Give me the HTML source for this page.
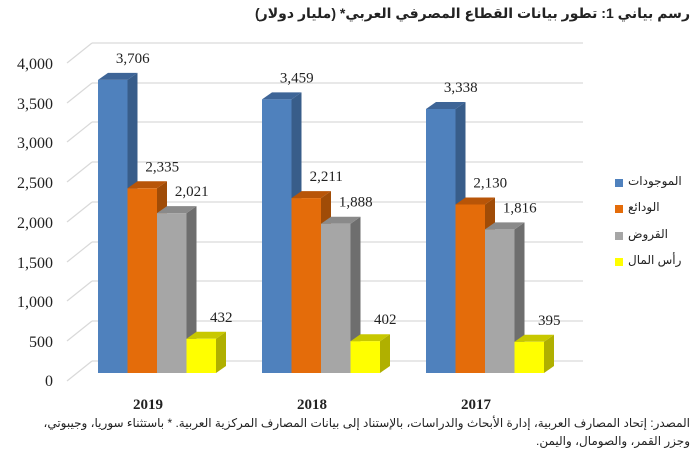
<!DOCTYPE html>
<html><head><meta charset="utf-8"><style>
body{margin:0;background:#fff;width:700px;height:454px;position:relative;overflow:hidden;}
svg{display:block;font-family:"Liberation Serif","DejaVu Serif",serif;position:absolute;left:0;top:0;}
.ar{position:absolute;font-family:"Liberation Sans","DejaVu Sans",sans-serif;direction:rtl;text-align:right;color:#222;white-space:nowrap;}
</style></head><body>
<svg width="700" height="454" viewBox="0 0 700 454" xmlns="http://www.w3.org/2000/svg">
<g stroke="#d9d9d9" stroke-width="1.2" fill="none">
<line x1="92" y1="43" x2="583" y2="43"/><line x1="67" y1="63" x2="92" y2="43"/>
<line x1="92" y1="83" x2="583" y2="83"/><line x1="67" y1="103" x2="92" y2="83"/>
<line x1="92" y1="122" x2="583" y2="122"/><line x1="67" y1="142" x2="92" y2="122"/>
<line x1="92" y1="162" x2="583" y2="162"/><line x1="67" y1="182" x2="92" y2="162"/>
<line x1="92" y1="202" x2="583" y2="202"/><line x1="67" y1="222" x2="92" y2="202"/>
<line x1="92" y1="242" x2="583" y2="242"/><line x1="67" y1="262" x2="92" y2="242"/>
<line x1="92" y1="281" x2="583" y2="281"/><line x1="67" y1="301" x2="92" y2="281"/>
<line x1="92" y1="321" x2="583" y2="321"/><line x1="67" y1="341" x2="92" y2="321"/>
<line x1="92" y1="361" x2="583" y2="361"/><line x1="67" y1="381" x2="92" y2="361"/>
</g>
<g font-size="16" fill="#222" text-anchor="end">
<text x="53" y="69">4,000</text><text x="53" y="109">3,500</text><text x="53" y="148">3,000</text>
<text x="53" y="188">2,500</text><text x="53" y="228">2,000</text><text x="53" y="268">1,500</text>
<text x="53" y="307">1,000</text><text x="53" y="347">500</text><text x="53" y="386">0</text>
</g>
<g font-size="15" fill="#222" text-anchor="middle">
<g transform="translate(98,0)">
<polygon points="29.5,79.9 39.5,72.9 39.5,366 29.5,373" fill="#385d8a"/><polygon points="0,79.9 10,72.9 39.5,72.9 29.5,79.9" fill="#3e6597"/><rect x="0" y="79.9" width="29.5" height="293.1" fill="#4f81bd"/><text x="34.75" y="62.9">3,706</text></g>
<g transform="translate(127.5,0)">
<polygon points="29.5,188.3 39.5,181.3 39.5,366 29.5,373" fill="#a04c07"/><polygon points="0,188.3 10,181.3 39.5,181.3 29.5,188.3" fill="#b85508"/><rect x="0" y="188.3" width="29.5" height="184.7" fill="#e46c0a"/><text x="34.75" y="171.3">2,335</text></g>
<g transform="translate(157,0)">
<polygon points="29.5,213.1 39.5,206.1 39.5,366 29.5,373" fill="#6e6e6e"/><polygon points="0,213.1 10,206.1 39.5,206.1 29.5,213.1" fill="#8a8a8a"/><rect x="0" y="213.1" width="29.5" height="159.9" fill="#a6a6a6"/><text x="34.75" y="196.1">2,021</text></g>
<g transform="translate(186.5,0)">
<polygon points="29.5,338.8 39.5,331.8 39.5,366 29.5,373" fill="#b0b000"/><polygon points="0,338.8 10,331.8 39.5,331.8 29.5,338.8" fill="#c8c800"/><rect x="0" y="338.8" width="29.5" height="34.2" fill="#ffff00"/><text x="34.75" y="321.8">432</text></g>
<g transform="translate(262,0)">
<polygon points="29.5,99.4 39.5,92.4 39.5,366 29.5,373" fill="#385d8a"/><polygon points="0,99.4 10,92.4 39.5,92.4 29.5,99.4" fill="#3e6597"/><rect x="0" y="99.4" width="29.5" height="273.6" fill="#4f81bd"/><text x="34.75" y="82.4">3,459</text></g>
<g transform="translate(291.5,0)">
<polygon points="29.5,198.1 39.5,191.1 39.5,366 29.5,373" fill="#a04c07"/><polygon points="0,198.1 10,191.1 39.5,191.1 29.5,198.1" fill="#b85508"/><rect x="0" y="198.1" width="29.5" height="174.9" fill="#e46c0a"/><text x="34.75" y="181.1">2,211</text></g>
<g transform="translate(321,0)">
<polygon points="29.5,223.7 39.5,216.7 39.5,366 29.5,373" fill="#6e6e6e"/><polygon points="0,223.7 10,216.7 39.5,216.7 29.5,223.7" fill="#8a8a8a"/><rect x="0" y="223.7" width="29.5" height="149.3" fill="#a6a6a6"/><text x="34.75" y="206.7">1,888</text></g>
<g transform="translate(350.5,0)">
<polygon points="29.5,341.2 39.5,334.2 39.5,366 29.5,373" fill="#b0b000"/><polygon points="0,341.2 10,334.2 39.5,334.2 29.5,341.2" fill="#c8c800"/><rect x="0" y="341.2" width="29.5" height="31.8" fill="#ffff00"/><text x="34.75" y="324.2">402</text></g>
<g transform="translate(426,0)">
<polygon points="29.5,109 39.5,102 39.5,366 29.5,373" fill="#385d8a"/><polygon points="0,109 10,102 39.5,102 29.5,109" fill="#3e6597"/><rect x="0" y="109" width="29.5" height="264" fill="#4f81bd"/><text x="34.75" y="92">3,338</text></g>
<g transform="translate(455.5,0)">
<polygon points="29.5,204.5 39.5,197.5 39.5,366 29.5,373" fill="#a04c07"/><polygon points="0,204.5 10,197.5 39.5,197.5 29.5,204.5" fill="#b85508"/><rect x="0" y="204.5" width="29.5" height="168.5" fill="#e46c0a"/><text x="34.75" y="187.5">2,130</text></g>
<g transform="translate(485,0)">
<polygon points="29.5,229.4 39.5,222.4 39.5,366 29.5,373" fill="#6e6e6e"/><polygon points="0,229.4 10,222.4 39.5,222.4 29.5,229.4" fill="#8a8a8a"/><rect x="0" y="229.4" width="29.5" height="143.6" fill="#a6a6a6"/><text x="34.75" y="212.4">1,816</text></g>
<g transform="translate(514.5,0)">
<polygon points="29.5,341.8 39.5,334.8 39.5,366 29.5,373" fill="#b0b000"/><polygon points="0,341.8 10,334.8 39.5,334.8 29.5,341.8" fill="#c8c800"/><rect x="0" y="341.8" width="29.5" height="31.2" fill="#ffff00"/><text x="34.75" y="324.8">395</text></g>
</g>
<g font-size="15" font-weight="bold" fill="#222" text-anchor="middle">
<text x="148" y="409">2019</text><text x="312" y="409">2018</text><text x="476" y="409">2017</text>
</g>
<rect x="615" y="179" width="8" height="8" fill="#4f81bd"/>
<rect x="615" y="205" width="8" height="8" fill="#e46c0a"/>
<rect x="615" y="232" width="8" height="8" fill="#a6a6a6"/>
<rect x="615" y="258" width="8" height="8" fill="#ffff00"/>
</svg>
<div class="ar" style="right:10px;top:5px;font-size:14px;font-weight:bold;">رسم بياني 1: تطور بيانات القطاع المصرفي العربي* (مليار دولار)</div>
<div class="ar" style="left:628px;top:174px;font-size:12px;width:60px;direction:ltr;text-align:left;"><span dir="rtl">الموجودات</span></div>
<div class="ar" style="left:628px;top:200px;font-size:12px;width:60px;direction:ltr;text-align:left;"><span dir="rtl">الودائع</span></div>
<div class="ar" style="left:628px;top:227px;font-size:12px;width:60px;direction:ltr;text-align:left;"><span dir="rtl">القروض</span></div>
<div class="ar" style="left:628px;top:253px;font-size:12px;width:60px;direction:ltr;text-align:left;"><span dir="rtl">رأس المال</span></div>
<div class="ar" style="right:10px;top:414px;font-size:12px;line-height:18px;">المصدر: إتحاد المصارف العربية، إدارة الأبحاث والدراسات، بالإستناد إلى بيانات المصارف المركزية العربية. * باستثناء سوريا، وجيبوتي،<br>وجزر القمر، والصومال، واليمن.</div>
</body></html>
